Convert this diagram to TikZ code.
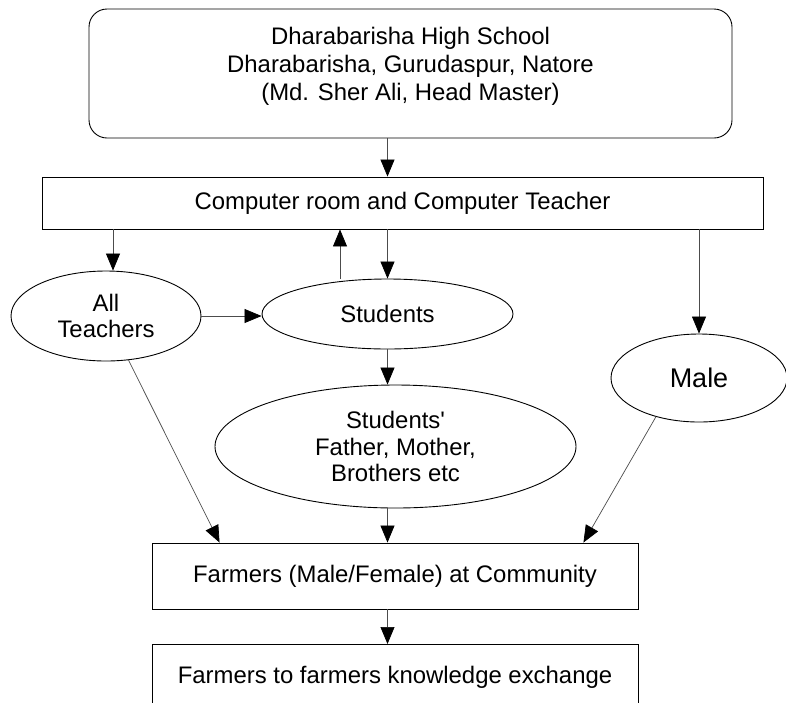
\documentclass[tikz,border=0pt]{standalone}
\usepackage{fontspec}
\setmainfont{Liberation Sans}
\usetikzlibrary{arrows.meta,shapes.geometric,calc}

\begin{document}
\begin{tikzpicture}[x=1pt,y=-1pt,
                box/.style={draw,line width=0.9pt,inner sep=0pt,align=center,font=\fontsize{23.9}{28}\selectfont},
                oval/.style={ellipse,draw,line width=0.9pt,inner sep=0pt,align=center,font=\fontsize{23.9}{26.5}\selectfont},
                link/.style={draw=black!70,line width=0.7pt,-{Triangle[width=14pt,length=17pt,color=black]}}]
                \useasboundingbox[fill=white] (0,0) rectangle (786,702);

                \node[box,rounded corners=18pt,minimum width=643pt,minimum height=129pt] (school) at (410.5,73.5) {};
                \node[align=center,inner sep=0pt,font=\fontsize{23.9}{28}\selectfont] (schooltext) at (410.5,66)
                    {Dharabarisha High School\\Dharabarisha, Gurudaspur, Natore\\(Md. Sher Ali, Head Master)};
                \node[box,minimum width=721pt,minimum height=52pt] (comp) at (402.5,203) {Computer room and Computer Teacher};

                \node[oval,minimum width=190pt,minimum height=90pt] (teachers) at (106,316) {All\\Teachers};
                \node[oval,minimum width=251pt,minimum height=70pt] (students) at (387.5,314) {Students};
                \node[oval,minimum width=176pt,minimum height=88pt,font=\fontsize{27}{30}\selectfont] (male) at (699,378) {Male};
                \node[oval,minimum width=361pt,minimum height=123pt] (parents) at (395.5,446.5) {Students\textquotesingle\\Father, Mother,\\Brothers etc};

                \node[box,minimum width=486pt,minimum height=66pt] (farmers) at (395,576) {Farmers (Male/Female) at Community};
                \node[box,minimum width=486pt,minimum height=66pt,anchor=north] (exchange) at (395,644) {Farmers to farmers knowledge exchange};

                \coordinate (tin) at ($(teachers.north)+(7,0)$);
                \coordinate (upfoot) at ($(students.north)+(-47.5,0)$);

                \draw[link] (school.south -| students) -- (comp.north -| students);
                \draw[link] (tin |- comp.south) -- (tin);
                \draw[link] (upfoot) -- (upfoot |- comp.south);
                \draw[link] (comp.south -| students) -- (students.north);
                \draw[link] (comp.south -| male) -- (male.north);
                \draw[link] (teachers.east) -- (teachers.east -| students.west);
                \draw[link] (students.south) -- (parents.north -| students.south);

                \draw[link] (teachers.-63) -- ($(farmers.north west)+(68,0)$);
                \draw[link] (students |- parents.south) -- (students |- farmers.north);
                \draw[link] (male.-138) -- ($(farmers.north east)+(-55,0)$);
                \draw[link] (students |- farmers.south) -- (students |- exchange.north);
            \end{tikzpicture}
\end{document}
